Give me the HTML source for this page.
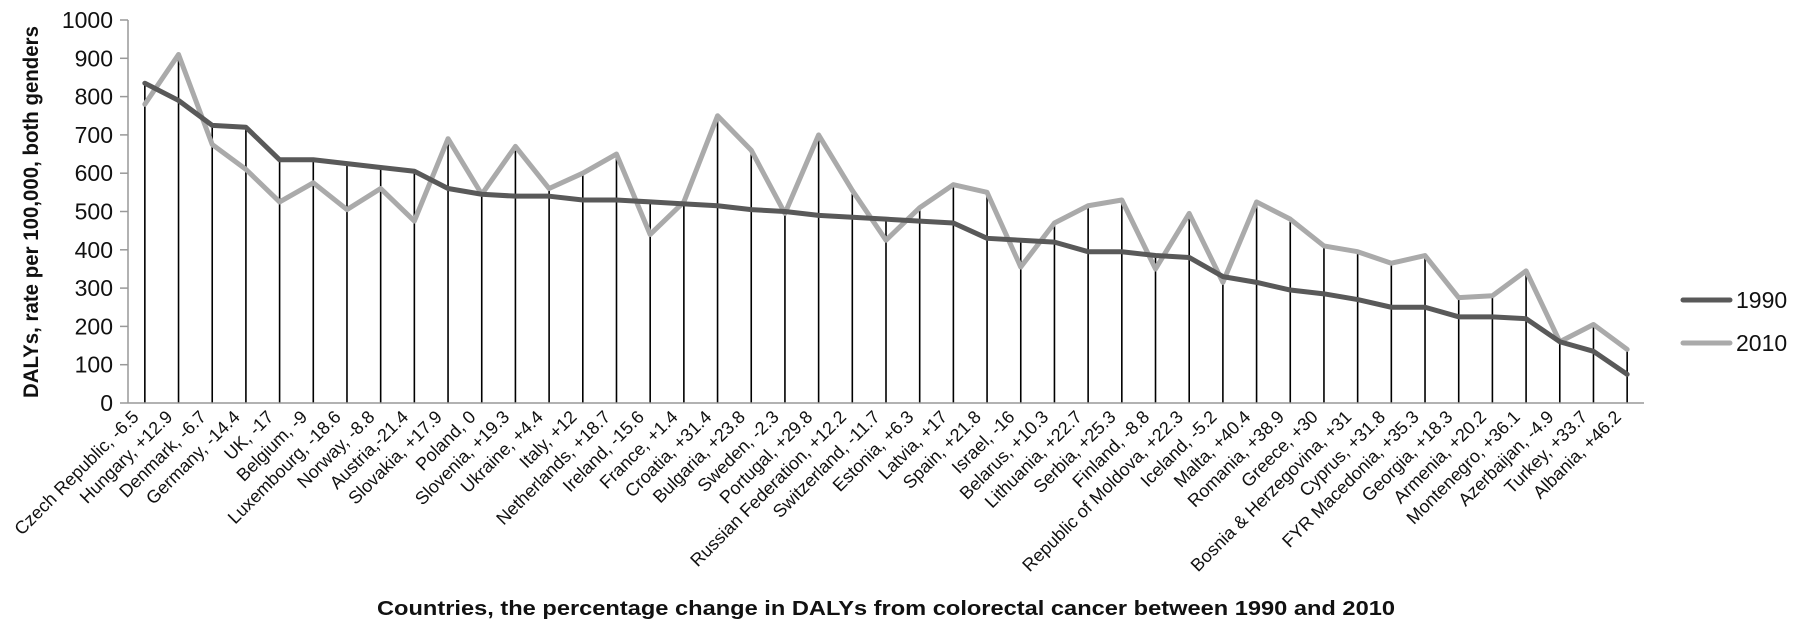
<!DOCTYPE html>
<html><head><meta charset="utf-8"><style>
body{margin:0;background:#fff;}
svg{display:block;font-family:"Liberation Sans",sans-serif;}
</style></head><body>
<svg id="chart" width="1795" height="632">
<g id="grid"></g>
</svg>
<script>
const categories=["Czech Republic, -6.5","Hungary, +12.9","Denmark, -6.7","Germany, -14.4","UK, -17","Belgium, -9","Luxembourg, -18.6","Norway, -8.8","Austria,-21.4","Slovakia, +17.9","Poland, 0","Slovenia, +19.3","Ukraine, +4.4","Italy, +12","Netherlands, +18.7","Ireland, -15.6","France, +1.4","Croatia, +31.4","Bulgaria, +23.8","Sweden, -2.3","Portugal, +29.8","Russian Federation, +12.2","Switzerland, -11.7","Estonia, +6.3","Latvia, +17","Spain, +21.8","Israel, -16","Belarus, +10.3","Lithuania, +22.7","Serbia, +25.3","Finland, -8.8","Republic of Moldova, +22.3","Iceland, -5.2","Malta, +40.4","Romania, +38.9","Greece, +30","Bosnia & Herzegovina, +31","Cyprus, +31.8","FYR Macedonia, +35.3","Georgia, +18.3","Armenia, +20.2","Montenegro, +36.1","Azerbaijan, -4.9","Turkey, +33.7","Albania, +46.2"];
const values1990=[835,790,725,720,635,635,625,615,605,560,545,540,540,530,530,525,520,515,505,500,490,485,480,475,470,430,425,420,395,395,385,380,330,315,295,285,270,250,250,225,225,220,160,135,75];
const values2010=[780,910,675,610,525,575,505,560,475,690,545,670,560,600,650,440,525,750,660,495,700,555,425,510,570,550,355,470,515,530,350,495,315,525,480,410,395,365,385,275,280,345,160,205,140];
const yTicks=[0,100,200,300,400,500,600,700,800,900,1000];

const NS="http://www.w3.org/2000/svg";
const svg=document.getElementById('chart');
const X0=128,X1=1644,Y0=403,Y1=20;
const band=(X1-X0)/categories.length;
const xs=i=>X0+band*(i+0.5);
const ys=v=>Y0-(v/1000)*(Y0-Y1);
function mk(t,a){const e=document.createElementNS(NS,t);for(const k in a)e.setAttribute(k,a[k]);svg.appendChild(e);return e;}

let e=mk('line',{x1:X0,y1:Y1,x2:X0,y2:Y0,stroke:'#999','stroke-width':1.5});


yTicks.forEach(t=>{
  let tk=mk('line',{x1:X0-8,y1:ys(t),x2:X0,y2:ys(t),stroke:'#999','stroke-width':1.5});
  
  
  let tl=mk('text',{x:X0-15,y:ys(t)+8,'text-anchor':'end','font-size':23,fill:'#111'});
  tl.textContent=t;
  
  
});
categories.forEach((c,i)=>{
  const m=Math.max(values1990[i],values2010[i]);
  let d=mk('line',{x1:xs(i),y1:ys(m),x2:xs(i),y2:Y0,stroke:'#000','stroke-width':1.6});
  
  
});
e=mk('line',{x1:X0,y1:Y0,x2:X1,y2:Y0,stroke:'#999','stroke-width':1.5});


function series(vals,color,name){
  const p=mk('polyline',{points:vals.map((v,i)=>xs(i)+','+ys(v)).join(' '),fill:'none',stroke:color,'stroke-width':5,'stroke-linejoin':'round','stroke-linecap':'round'});
  
  
}
series(values2010,'#aaaaaa','series-2010-line');
series(values1990,'#595959','series-1990-line');
categories.forEach((c,i)=>{
  const x=xs(i)-5,y=Y0+15;
  let t=mk('text',{x:x,y:y,'text-anchor':'end','font-size':18,fill:'#111',transform:`rotate(-45 ${x} ${y})`});
  t.textContent=c;
  
  
});
e=mk('text',{x:38,y:212,'text-anchor':'middle','font-size':21,'font-weight':'bold',fill:'#111',textLength:372,lengthAdjust:'spacingAndGlyphs',transform:'rotate(-90 38 212)'});
e.textContent='DALYs, rate per 100,000, both genders';


e=mk('text',{x:886,y:615,'text-anchor':'middle','font-size':20,'font-weight':'bold',fill:'#111',textLength:1018,lengthAdjust:'spacingAndGlyphs'});
e.textContent='Countries, the percentage change in DALYs from colorectal cancer between 1990 and 2010';


[['1990','#595959',300],['2010','#aaaaaa',343]].forEach(([lab,col,y])=>{
  let l=mk('line',{x1:1683,y1:y,x2:1730,y2:y,stroke:col,'stroke-width':5,'stroke-linecap':'round'});
  
  
  let t=mk('text',{x:1736,y:y+8,'font-size':23,fill:'#111'});
  t.textContent=lab;
  
  
});
</script>
</body></html>
